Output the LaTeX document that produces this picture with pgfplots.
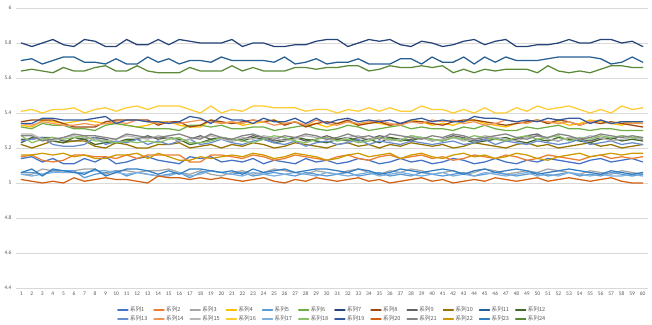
\documentclass[border=0pt]{standalone}
\usepackage{pgfplots}
\pgfplotsset{compat=1.18}
\usepackage{fontspec}
\setmainfont{Carlito}
\newfontfamily\cjk{Noto Sans CJK SC}
\definecolor{c1}{HTML}{4472C4}
\definecolor{c2}{HTML}{ED7D31}
\definecolor{c3}{HTML}{A5A5A5}
\definecolor{c4}{HTML}{FFC000}
\definecolor{c5}{HTML}{5B9BD5}
\definecolor{c6}{HTML}{70AD47}
\definecolor{c7}{HTML}{264478}
\definecolor{c8}{HTML}{9E480E}
\definecolor{c9}{HTML}{636363}
\definecolor{c10}{HTML}{997300}
\definecolor{c11}{HTML}{255E91}
\definecolor{c12}{HTML}{43682B}
\definecolor{c13}{HTML}{698ED0}
\definecolor{c14}{HTML}{F1975A}
\definecolor{c15}{HTML}{B7B7B7}
\definecolor{c16}{HTML}{FFCD33}
\definecolor{c17}{HTML}{7CAFDD}
\definecolor{c18}{HTML}{8CC168}
\definecolor{c19}{HTML}{335AA1}
\definecolor{c20}{HTML}{D26012}
\definecolor{c21}{HTML}{848484}
\definecolor{c22}{HTML}{CC9A00}
\definecolor{c23}{HTML}{327DC2}
\definecolor{c24}{HTML}{5A8A39}
\definecolor{gridgray}{HTML}{D9D9D9}
\definecolor{labelgray}{HTML}{595959}
\begin{document}
\begin{tikzpicture}
\path[use as bounding box] (0,0) rectangle (652pt,324pt);
\begin{axis}[
  at={(16pt,36pt)}, anchor=south west,
  scale only axis, width=632pt, height=280pt,
  xmin=0.5, xmax=60.5, ymin=4.4, ymax=6,
  xtick={1,...,60},
  ytick={4.4,4.6,4.8,5,5.2,5.4,5.6,5.8,6},
  ymajorgrids, grid style={draw=gridgray, line width=0.6pt},
  axis line style={draw=none},
  major tick length=0pt,
  tick label style={font=\fontsize{5.5}{6}\selectfont, text=labelgray},
  /pgf/number format/assume math mode=true,
  yticklabel style={xshift=-1pt},
  xticklabel style={yshift=-0.5pt},
  every axis plot/.append style={line width=1.25pt, line join=round, line cap=round},
  legend columns=12,
  legend cell align=left,
  legend image code/.code={\draw[#1] (0pt,0pt) -- (10pt,0pt);},
  legend style={at={(0.5,-0.055)}, anchor=north, draw=none, fill=none,
    font=\cjk\fontsize{5.6}{6}\selectfont, text=labelgray,
    nodes={inner sep=1.5pt, text height=4.6pt, text depth=1pt},
    row sep=0.5pt,
    /tikz/every even column/.append style={column sep=4.5pt}},
]
\addplot[c1] table[x expr=\coordindex+1,y index=0,header=false,row sep=\\]{5.14\\5.15\\5.12\\5.14\\5.11\\5.11\\5.14\\5.12\\5.15\\5.11\\5.12\\5.14\\5.15\\5.13\\5.12\\5.11\\5.15\\5.14\\5.15\\5.12\\5.13\\5.12\\5.14\\5.11\\5.13\\5.12\\5.11\\5.14\\5.12\\5.13\\5.11\\5.12\\5.14\\5.13\\5.11\\5.12\\5.14\\5.12\\5.13\\5.11\\5.12\\5.14\\5.13\\5.11\\5.12\\5.14\\5.12\\5.11\\5.13\\5.12\\5.14\\5.13\\5.12\\5.11\\5.13\\5.14\\5.12\\5.13\\5.14\\5.12\\};
\addplot[c2] table[x expr=\coordindex+1,y index=0,header=false,row sep=\\]{5.15\\5.16\\5.13\\5.12\\5.13\\5.16\\5.16\\5.15\\5.15\\5.14\\5.16\\5.14\\5.16\\5.16\\5.16\\5.16\\5.12\\5.12\\5.16\\5.16\\5.15\\5.14\\5.16\\5.15\\5.13\\5.14\\5.16\\5.15\\5.14\\5.13\\5.15\\5.16\\5.14\\5.13\\5.15\\5.16\\5.14\\5.15\\5.16\\5.14\\5.15\\5.13\\5.14\\5.16\\5.15\\5.14\\5.16\\5.15\\5.13\\5.14\\5.16\\5.15\\5.14\\5.13\\5.15\\5.16\\5.14\\5.15\\5.14\\5.15\\};
\addplot[c3] table[x expr=\coordindex+1,y index=0,header=false,row sep=\\]{5.05\\5.05\\5.08\\5.07\\5.06\\5.07\\5.08\\5.08\\5.05\\5.07\\5.07\\5.06\\5.07\\5.07\\5.08\\5.06\\5.05\\5.07\\5.05\\5.04\\5.06\\5.07\\5.05\\5.06\\5.08\\5.07\\5.06\\5.05\\5.07\\5.06\\5.05\\5.07\\5.08\\5.06\\5.05\\5.07\\5.06\\5.08\\5.07\\5.05\\5.06\\5.07\\5.05\\5.06\\5.08\\5.07\\5.05\\5.06\\5.07\\5.06\\5.08\\5.07\\5.06\\5.05\\5.07\\5.06\\5.05\\5.07\\5.06\\5.05\\};
\addplot[c4] table[x expr=\coordindex+1,y index=0,header=false,row sep=\\]{5.33\\5.32\\5.36\\5.35\\5.34\\5.35\\5.36\\5.35\\5.34\\5.34\\5.33\\5.32\\5.33\\5.35\\5.35\\5.33\\5.32\\5.32\\5.36\\5.34\\5.35\\5.33\\5.34\\5.35\\5.36\\5.34\\5.35\\5.33\\5.34\\5.32\\5.34\\5.35\\5.33\\5.35\\5.34\\5.33\\5.34\\5.36\\5.35\\5.33\\5.34\\5.33\\5.35\\5.36\\5.34\\5.33\\5.32\\5.34\\5.35\\5.36\\5.34\\5.35\\5.33\\5.34\\5.36\\5.35\\5.34\\5.33\\5.35\\5.34\\};
\addplot[c5] table[x expr=\coordindex+1,y index=0,header=false,row sep=\\]{5.06\\5.06\\5.05\\5.07\\5.07\\5.07\\5.03\\5.05\\5.06\\5.07\\5.04\\5.06\\5.05\\5.04\\5.05\\5.06\\5.03\\5.06\\5.07\\5.06\\5.05\\5.06\\5.04\\5.05\\5.06\\5.05\\5.04\\5.06\\5.05\\5.04\\5.05\\5.06\\5.04\\5.05\\5.06\\5.04\\5.05\\5.04\\5.06\\5.05\\5.04\\5.05\\5.06\\5.04\\5.05\\5.06\\5.05\\5.04\\5.05\\5.06\\5.04\\5.05\\5.06\\5.04\\5.05\\5.04\\5.06\\5.05\\5.04\\5.05\\};
\addplot[c6] table[x expr=\coordindex+1,y index=0,header=false,row sep=\\]{5.32\\5.31\\5.34\\5.33\\5.33\\5.31\\5.31\\5.30\\5.33\\5.34\\5.33\\5.32\\5.31\\5.31\\5.31\\5.30\\5.33\\5.33\\5.32\\5.33\\5.31\\5.31\\5.32\\5.32\\5.30\\5.31\\5.32\\5.33\\5.31\\5.30\\5.31\\5.33\\5.32\\5.30\\5.31\\5.32\\5.33\\5.31\\5.32\\5.31\\5.31\\5.30\\5.32\\5.31\\5.33\\5.31\\5.30\\5.30\\5.32\\5.31\\5.32\\5.33\\5.31\\5.31\\5.30\\5.31\\5.31\\5.30\\5.30\\5.30\\};
\addplot[c7] table[x expr=\coordindex+1,y index=0,header=false,row sep=\\]{5.80\\5.78\\5.80\\5.82\\5.79\\5.78\\5.82\\5.81\\5.78\\5.78\\5.82\\5.79\\5.79\\5.82\\5.79\\5.82\\5.81\\5.80\\5.80\\5.80\\5.82\\5.78\\5.80\\5.80\\5.78\\5.78\\5.79\\5.79\\5.81\\5.82\\5.82\\5.78\\5.80\\5.82\\5.81\\5.82\\5.79\\5.78\\5.81\\5.80\\5.78\\5.79\\5.81\\5.82\\5.79\\5.81\\5.82\\5.78\\5.78\\5.79\\5.79\\5.80\\5.82\\5.80\\5.80\\5.82\\5.82\\5.80\\5.81\\5.78\\};
\addplot[c8] table[x expr=\coordindex+1,y index=0,header=false,row sep=\\]{5.35\\5.36\\5.36\\5.36\\5.34\\5.32\\5.32\\5.32\\5.35\\5.36\\5.36\\5.36\\5.36\\5.33\\5.35\\5.35\\5.32\\5.33\\5.36\\5.35\\5.34\\5.35\\5.36\\5.35\\5.36\\5.33\\5.35\\5.32\\5.34\\5.35\\5.34\\5.36\\5.33\\5.34\\5.35\\5.33\\5.34\\5.35\\5.35\\5.34\\5.33\\5.35\\5.36\\5.36\\5.35\\5.34\\5.33\\5.34\\5.35\\5.36\\5.34\\5.36\\5.35\\5.33\\5.35\\5.34\\5.35\\5.34\\5.33\\5.32\\};
\addplot[c9] table[x expr=\coordindex+1,y index=0,header=false,row sep=\\]{5.25\\5.25\\5.26\\5.26\\5.24\\5.24\\5.25\\5.26\\5.25\\5.23\\5.24\\5.25\\5.27\\5.25\\5.26\\5.24\\5.25\\5.27\\5.25\\5.26\\5.24\\5.25\\5.27\\5.26\\5.24\\5.25\\5.26\\5.24\\5.25\\5.27\\5.25\\5.24\\5.26\\5.25\\5.27\\5.26\\5.24\\5.25\\5.26\\5.24\\5.25\\5.27\\5.26\\5.24\\5.25\\5.26\\5.24\\5.25\\5.27\\5.28\\5.25\\5.24\\5.26\\5.25\\5.24\\5.26\\5.25\\5.27\\5.26\\5.25\\};
\addplot[c10] table[x expr=\coordindex+1,y index=0,header=false,row sep=\\]{5.22\\5.20\\5.22\\5.24\\5.23\\5.24\\5.24\\5.21\\5.20\\5.23\\5.22\\5.20\\5.20\\5.22\\5.22\\5.23\\5.20\\5.21\\5.22\\5.20\\5.22\\5.21\\5.23\\5.22\\5.20\\5.21\\5.23\\5.22\\5.21\\5.20\\5.22\\5.23\\5.21\\5.22\\5.20\\5.22\\5.21\\5.23\\5.22\\5.21\\5.22\\5.20\\5.21\\5.23\\5.22\\5.21\\5.20\\5.22\\5.23\\5.21\\5.22\\5.20\\5.21\\5.22\\5.23\\5.21\\5.22\\5.20\\5.21\\5.22\\};
\addplot[c11] table[x expr=\coordindex+1,y index=0,header=false,row sep=\\]{5.70\\5.71\\5.68\\5.70\\5.72\\5.72\\5.69\\5.69\\5.68\\5.71\\5.68\\5.68\\5.72\\5.69\\5.71\\5.68\\5.70\\5.70\\5.69\\5.72\\5.70\\5.70\\5.70\\5.70\\5.69\\5.72\\5.68\\5.69\\5.71\\5.68\\5.69\\5.69\\5.71\\5.68\\5.68\\5.68\\5.71\\5.71\\5.68\\5.72\\5.69\\5.69\\5.72\\5.68\\5.72\\5.69\\5.72\\5.70\\5.70\\5.70\\5.71\\5.72\\5.72\\5.72\\5.72\\5.71\\5.68\\5.69\\5.72\\5.69\\};
\addplot[c12] table[x expr=\coordindex+1,y index=0,header=false,row sep=\\]{5.23\\5.26\\5.26\\5.24\\5.23\\5.26\\5.25\\5.22\\5.23\\5.23\\5.25\\5.25\\5.26\\5.26\\5.26\\5.25\\5.22\\5.23\\5.25\\5.26\\5.25\\5.24\\5.26\\5.25\\5.23\\5.24\\5.26\\5.25\\5.24\\5.23\\5.25\\5.26\\5.24\\5.25\\5.23\\5.26\\5.25\\5.24\\5.26\\5.25\\5.24\\5.26\\5.25\\5.23\\5.24\\5.25\\5.26\\5.24\\5.23\\5.25\\5.24\\5.26\\5.25\\5.24\\5.23\\5.25\\5.26\\5.24\\5.25\\5.24\\};
\addplot[c13] table[x expr=\coordindex+1,y index=0,header=false,row sep=\\]{5.24\\5.25\\5.26\\5.22\\5.21\\5.21\\5.22\\5.26\\5.22\\5.24\\5.23\\5.25\\5.22\\5.24\\5.22\\5.24\\5.25\\5.22\\5.23\\5.25\\5.23\\5.22\\5.24\\5.25\\5.23\\5.22\\5.24\\5.21\\5.23\\5.24\\5.22\\5.23\\5.25\\5.22\\5.24\\5.23\\5.22\\5.24\\5.23\\5.22\\5.23\\5.24\\5.22\\5.23\\5.25\\5.22\\5.24\\5.23\\5.22\\5.24\\5.23\\5.22\\5.23\\5.25\\5.22\\5.23\\5.24\\5.22\\5.23\\5.22\\};
\addplot[c14] table[x expr=\coordindex+1,y index=0,header=false,row sep=\\]{5.34\\5.33\\5.35\\5.34\\5.33\\5.33\\5.34\\5.33\\5.34\\5.35\\5.34\\5.36\\5.35\\5.34\\5.35\\5.34\\5.35\\5.36\\5.35\\5.34\\5.35\\5.34\\5.36\\5.35\\5.33\\5.34\\5.35\\5.33\\5.36\\5.34\\5.33\\5.35\\5.34\\5.35\\5.36\\5.34\\5.33\\5.35\\5.34\\5.36\\5.35\\5.36\\5.34\\5.35\\5.33\\5.34\\5.36\\5.35\\5.34\\5.36\\5.35\\5.34\\5.35\\5.33\\5.35\\5.36\\5.34\\5.35\\5.34\\5.34\\};
\addplot[c15] table[x expr=\coordindex+1,y index=0,header=false,row sep=\\]{5.28\\5.28\\5.25\\5.24\\5.26\\5.27\\5.26\\5.25\\5.24\\5.25\\5.27\\5.26\\5.25\\5.27\\5.26\\5.24\\5.25\\5.26\\5.27\\5.25\\5.24\\5.26\\5.25\\5.27\\5.26\\5.24\\5.25\\5.27\\5.26\\5.25\\5.24\\5.26\\5.27\\5.25\\5.26\\5.24\\5.25\\5.27\\5.26\\5.24\\5.25\\5.26\\5.24\\5.25\\5.27\\5.26\\5.25\\5.24\\5.26\\5.27\\5.25\\5.24\\5.26\\5.25\\5.27\\5.26\\5.24\\5.25\\5.26\\5.25\\};
\addplot[c16] table[x expr=\coordindex+1,y index=0,header=false,row sep=\\]{5.41\\5.42\\5.40\\5.42\\5.42\\5.43\\5.40\\5.42\\5.43\\5.41\\5.43\\5.44\\5.42\\5.44\\5.44\\5.44\\5.42\\5.40\\5.44\\5.40\\5.42\\5.41\\5.44\\5.44\\5.43\\5.43\\5.43\\5.41\\5.42\\5.42\\5.40\\5.42\\5.41\\5.43\\5.41\\5.43\\5.41\\5.41\\5.44\\5.42\\5.42\\5.40\\5.42\\5.40\\5.43\\5.40\\5.40\\5.43\\5.41\\5.44\\5.42\\5.43\\5.44\\5.42\\5.40\\5.42\\5.40\\5.44\\5.42\\5.43\\};
\addplot[c17] table[x expr=\coordindex+1,y index=0,header=false,row sep=\\]{5.05\\5.04\\5.05\\5.06\\5.06\\5.06\\5.06\\5.07\\5.07\\5.06\\5.05\\5.06\\5.05\\5.04\\5.04\\5.06\\5.04\\5.05\\5.07\\5.06\\5.05\\5.04\\5.06\\5.05\\5.04\\5.05\\5.06\\5.05\\5.04\\5.06\\5.05\\5.04\\5.05\\5.06\\5.04\\5.05\\5.06\\5.05\\5.04\\5.05\\5.06\\5.04\\5.05\\5.04\\5.06\\5.05\\5.04\\5.05\\5.06\\5.04\\5.05\\5.04\\5.06\\5.05\\5.04\\5.05\\5.04\\5.04\\5.05\\5.04\\};
\addplot[c18] table[x expr=\coordindex+1,y index=0,header=false,row sep=\\]{5.27\\5.23\\5.25\\5.26\\5.25\\5.26\\5.27\\5.24\\5.24\\5.23\\5.24\\5.23\\5.24\\5.23\\5.25\\5.26\\5.23\\5.23\\5.24\\5.26\\5.25\\5.24\\5.23\\5.25\\5.27\\5.26\\5.24\\5.23\\5.25\\5.26\\5.24\\5.25\\5.23\\5.24\\5.26\\5.25\\5.24\\5.27\\5.26\\5.25\\5.24\\5.26\\5.25\\5.27\\5.26\\5.25\\5.24\\5.26\\5.27\\5.25\\5.26\\5.27\\5.24\\5.26\\5.25\\5.27\\5.26\\5.27\\5.26\\5.26\\};
\addplot[c19] table[x expr=\coordindex+1,y index=0,header=false,row sep=\\]{5.34\\5.34\\5.37\\5.37\\5.36\\5.36\\5.36\\5.37\\5.38\\5.34\\5.36\\5.36\\5.35\\5.35\\5.34\\5.35\\5.38\\5.37\\5.34\\5.38\\5.36\\5.36\\5.34\\5.37\\5.35\\5.35\\5.37\\5.34\\5.37\\5.34\\5.36\\5.37\\5.35\\5.36\\5.35\\5.36\\5.34\\5.36\\5.37\\5.35\\5.36\\5.35\\5.35\\5.38\\5.37\\5.37\\5.36\\5.35\\5.36\\5.35\\5.37\\5.36\\5.37\\5.37\\5.34\\5.36\\5.34\\5.35\\5.35\\5.35\\};
\addplot[c20] table[x expr=\coordindex+1,y index=0,header=false,row sep=\\]{5.02\\5.01\\5.00\\5.01\\5.00\\5.03\\5.01\\5.02\\5.03\\5.02\\5.02\\5.01\\5.00\\5.04\\5.03\\5.03\\5.02\\5.03\\5.02\\5.03\\5.02\\5.01\\5.02\\5.03\\5.01\\5.00\\5.02\\5.01\\5.03\\5.02\\5.01\\5.02\\5.03\\5.01\\5.02\\5.00\\5.01\\5.02\\5.03\\5.01\\5.02\\5.00\\5.01\\5.02\\5.01\\5.03\\5.02\\5.01\\5.02\\5.03\\5.01\\5.02\\5.03\\5.02\\5.01\\5.02\\5.03\\5.01\\5.00\\5.00\\};
\addplot[c21] table[x expr=\coordindex+1,y index=0,header=false,row sep=\\]{5.27\\5.27\\5.24\\5.25\\5.26\\5.28\\5.27\\5.27\\5.26\\5.25\\5.28\\5.27\\5.26\\5.26\\5.27\\5.28\\5.26\\5.25\\5.28\\5.26\\5.25\\5.27\\5.28\\5.26\\5.25\\5.27\\5.26\\5.28\\5.27\\5.25\\5.26\\5.28\\5.26\\5.27\\5.25\\5.28\\5.27\\5.26\\5.25\\5.27\\5.26\\5.28\\5.27\\5.25\\5.26\\5.27\\5.28\\5.26\\5.25\\5.27\\5.26\\5.28\\5.27\\5.25\\5.26\\5.28\\5.27\\5.26\\5.27\\5.26\\};
\addplot[c22] table[x expr=\coordindex+1,y index=0,header=false,row sep=\\]{5.16\\5.16\\5.17\\5.16\\5.17\\5.15\\5.16\\5.14\\5.14\\5.16\\5.16\\5.17\\5.14\\5.17\\5.15\\5.13\\5.13\\5.15\\5.14\\5.15\\5.16\\5.15\\5.17\\5.16\\5.14\\5.15\\5.17\\5.16\\5.15\\5.13\\5.14\\5.16\\5.17\\5.15\\5.16\\5.17\\5.14\\5.16\\5.17\\5.15\\5.14\\5.16\\5.17\\5.15\\5.16\\5.14\\5.15\\5.17\\5.16\\5.14\\5.13\\5.15\\5.16\\5.17\\5.15\\5.16\\5.17\\5.16\\5.17\\5.17\\};
\addplot[c23] table[x expr=\coordindex+1,y index=0,header=false,row sep=\\]{5.06\\5.08\\5.04\\5.08\\5.07\\5.06\\5.05\\5.08\\5.04\\5.06\\5.08\\5.08\\5.07\\5.05\\5.07\\5.05\\5.08\\5.08\\5.07\\5.06\\5.07\\5.05\\5.08\\5.06\\5.07\\5.08\\5.06\\5.07\\5.08\\5.08\\5.07\\5.06\\5.08\\5.07\\5.05\\5.06\\5.08\\5.07\\5.06\\5.07\\5.08\\5.07\\5.05\\5.07\\5.08\\5.06\\5.07\\5.08\\5.07\\5.05\\5.06\\5.07\\5.08\\5.07\\5.06\\5.05\\5.07\\5.06\\5.05\\5.06\\};
\addplot[c24] table[x expr=\coordindex+1,y index=0,header=false,row sep=\\]{5.64\\5.65\\5.64\\5.63\\5.66\\5.64\\5.64\\5.66\\5.67\\5.64\\5.64\\5.67\\5.64\\5.63\\5.63\\5.63\\5.66\\5.64\\5.64\\5.64\\5.67\\5.64\\5.66\\5.64\\5.64\\5.64\\5.66\\5.66\\5.65\\5.66\\5.66\\5.67\\5.67\\5.64\\5.65\\5.67\\5.66\\5.66\\5.67\\5.66\\5.67\\5.63\\5.65\\5.63\\5.65\\5.64\\5.65\\5.65\\5.65\\5.63\\5.67\\5.64\\5.63\\5.64\\5.63\\5.65\\5.67\\5.67\\5.66\\5.66\\};
\legend{系列1,系列2,系列3,系列4,系列5,系列6,系列7,系列8,系列9,系列10,系列11,系列12,系列13,系列14,系列15,系列16,系列17,系列18,系列19,系列20,系列21,系列22,系列23,系列24}
\end{axis}
\end{tikzpicture}
\end{document}
